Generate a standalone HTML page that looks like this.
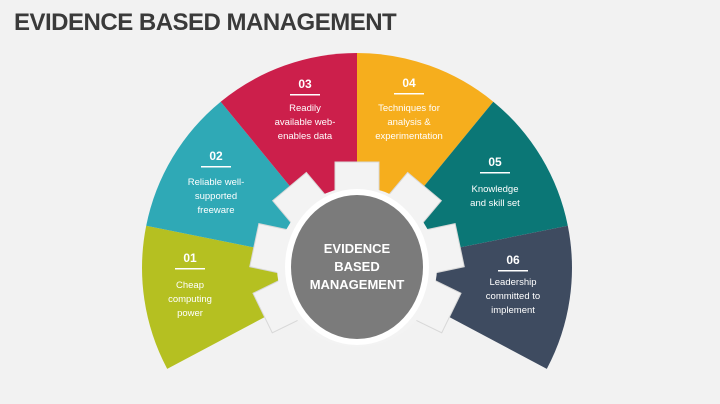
<!DOCTYPE html>
<html><head><meta charset="utf-8"><style>
html,body{margin:0;padding:0;background:#f2f2f2;}
body{width:720px;height:404px;overflow:hidden;position:relative;font-family:"Liberation Sans",sans-serif;}
h1{position:absolute;left:14px;top:9px;margin:0;font-size:24px;font-weight:bold;color:#3a3a3a;letter-spacing:-0.5px;}
</style></head><body>
<h1>EVIDENCE BASED MANAGEMENT</h1>
<svg width="720" height="404" style="position:absolute;left:0;top:0" font-family="Liberation Sans, sans-serif">
<g>
<path d="M357 268 L167.2 368.9 A215 215 0 0 1 146.2 225.8 Z" fill="#b5c021"/>
<path d="M357 268 L146.2 225.8 A215 215 0 0 1 220.7 101.7 Z" fill="#2fa9b6"/>
<path d="M357 268 L220.7 101.7 A215 215 0 0 1 357 53 Z" fill="#cc1f4b"/>
<path d="M357 268 L357 53 A215 215 0 0 1 493.3 101.7 Z" fill="#f6ae1d"/>
<path d="M357 268 L493.3 101.7 A215 215 0 0 1 567.8 225.8 Z" fill="#0b7776"/>
<path d="M357 268 L567.8 225.8 A215 215 0 0 1 546.8 368.9 Z" fill="#3e4b60"/>
</g>
<g fill="#f3f3f3" stroke="#d8d8d8" stroke-width="1">
<g transform="translate(357,267)">
<rect x="-22" y="-105" width="44" height="105" transform="rotate(0)"/>
<rect x="-22" y="-105" width="44" height="105" transform="rotate(-40)"/>
<rect x="-22" y="-105" width="44" height="105" transform="rotate(-78)"/>
<rect x="-22" y="-105" width="44" height="105" transform="rotate(-116)"/>
<rect x="-22" y="-105" width="44" height="105" transform="rotate(40)"/>
<rect x="-22" y="-105" width="44" height="105" transform="rotate(78)"/>
<rect x="-22" y="-105" width="44" height="105" transform="rotate(116)"/>
<circle r="80" stroke="none"/>
</g>
</g>
<ellipse cx="357" cy="267" rx="72" ry="78" fill="#ffffff"/>
<ellipse cx="357" cy="267" rx="66" ry="72" fill="#7b7b7b"/>
<g fill="#ffffff" font-weight="bold" font-size="13" text-anchor="middle">
<text x="357" y="253">EVIDENCE</text>
<text x="357" y="271">BASED</text>
<text x="357" y="289">MANAGEMENT</text>
</g>
<g fill="#ffffff" text-anchor="middle" font-size="9.5">
<text x="190" y="262" font-size="12" font-weight="bold">01</text>
<rect x="175" y="268" width="30" height="1.5"/>
<text x="190" y="288">Cheap</text><text x="190" y="302">computing</text><text x="190" y="316">power</text>

<text x="216" y="160" font-size="12" font-weight="bold">02</text>
<rect x="201" y="166" width="30" height="1.5"/>
<text x="216" y="185">Reliable well-</text><text x="216" y="199">supported</text><text x="216" y="213">freeware</text>

<text x="305" y="88" font-size="12" font-weight="bold">03</text>
<rect x="290" y="94" width="30" height="1.5"/>
<text x="305" y="111">Readily</text><text x="305" y="125">available web-</text><text x="305" y="139">enables data</text>

<text x="409" y="87" font-size="12" font-weight="bold">04</text>
<rect x="394" y="93" width="30" height="1.5"/>
<text x="409" y="111">Techniques for</text><text x="409" y="125">analysis &amp;</text><text x="409" y="139">experimentation</text>

<text x="495" y="166" font-size="12" font-weight="bold">05</text>
<rect x="480" y="172" width="30" height="1.5"/>
<text x="495" y="192">Knowledge</text><text x="495" y="206">and skill set</text>

<text x="513" y="264" font-size="12" font-weight="bold">06</text>
<rect x="498" y="270" width="30" height="1.5"/>
<text x="513" y="285">Leadership</text><text x="513" y="299">committed to</text><text x="513" y="313">implement</text>
</g>
</svg>
</body></html>
